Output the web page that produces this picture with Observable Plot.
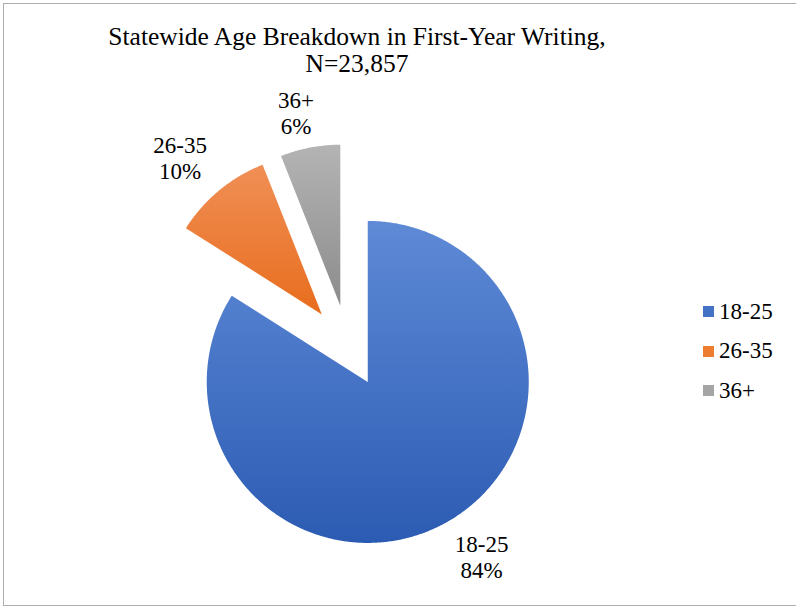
<!DOCTYPE html>
<html>
<head>
<meta charset="utf-8">
<script src="https://cdn.jsdelivr.net/npm/d3@7"></script>
<script src="https://cdn.jsdelivr.net/npm/@observablehq/plot@0.6"></script>
<style>
  html, body { margin: 0; padding: 0; background: #fff; }
  body { width: 796px; height: 609px; position: relative; overflow: hidden; font-family: "Liberation Serif", "Times New Roman", serif; }
  #frame { position: absolute; left: 3px; top: 3px; width: 820px; height: 603px; border: 1.5px solid #adadad; box-sizing: border-box; }
  #title { position: absolute; left: 357px; top: 23px; transform: translateX(-50%); white-space: nowrap; text-align: center; font-size: 25.5px; line-height: 27px; color: #000; }
  #chart { position: absolute; left: 0; top: 82px; }
  #legend { position: absolute; left: 703px; top: 292px; font-size: 23px; color: #000; }
  .item { display: flex; align-items: center; height: 39.5px; }
  .sw { width: 11px; height: 11px; margin-right: 5px; }
</style>
</head>
<body>
<div id="frame"></div>
<div id="title">Statewide Age Breakdown in First-Year Writing,<br>N=23,857</div>
<div id="chart"></div>
<div id="legend"></div>
<script>
// ---- data ----
const categories = ["18-25", "26-35", "36+"];
const shares = [84, 10, 6];            // percent
const shareLabels = ["84%", "10%", "6%"];
const legendColors = ["#4472c4", "#ed7d31", "#a5a5a5"];
const gradTop = ["#5e8ad6", "#f08f56", "#b4b4b4"];
const gradBottom = ["#2c5bb3", "#e86d1d", "#8c8c8c"];

// ---- layout ----
const W = 796, H = 527;
const cx = 347.5, cy = 263.5;       // pie centre in svg px
const R = 161;                      // radius in px (data unit = 1px)
const explode = 41;                 // every slice pulled out by this distance
const total = d3.sum(shares);

const rad = a => a * Math.PI / 180;
const dir = a => [Math.sin(rad(a)), Math.cos(rad(a))]; // clockwise from 12 o'clock, y up

let cum = 0;
const slices = categories.map((cat, i) => {
  const a0 = cum / total * 360;
  cum += shares[i];
  const a1 = cum / total * 360;
  const mid = (a0 + a1) / 2;
  const [dx, dy] = dir(mid);
  return {cat, i, a0, a1, mid, ax: dx * explode, ay: dy * explode};
});

const points = [];
for (const s of slices) {
  points.push({cat: s.cat, x: s.ax, y: s.ay});
  const n = Math.max(2, Math.ceil((s.a1 - s.a0) / 0.5));
  for (let k = 0; k <= n; k++) {
    const a = s.a0 + (s.a1 - s.a0) * k / n;
    const [dx, dy] = dir(a);
    points.push({cat: s.cat, x: s.ax + R * dx, y: s.ay + R * dy});
  }
  points.push({cat: s.cat, x: s.ax, y: s.ay});
}

const clamp = v => Math.max(-1, Math.min(1, v));
const labels = slices.map(s => {
  const [dx, dy] = dir(s.mid);
  return {
    text: `${s.cat}\n${shareLabels[s.i]}`,
    x: s.ax + 1.07 * R * dx + clamp(2 * dx) * 32,
    y: s.ay + 1.07 * R * dy + clamp(2 * dy) * 24
  };
});

const chart = Plot.plot({
  width: W, height: H,
  margin: 0,
  x: {domain: [-cx, W - cx], axis: null},
  y: {domain: [cy - H, cy], axis: null},
  color: {domain: categories, range: categories.map((c, i) => `url(#grad${i})`)},
  style: {background: "transparent", overflow: "visible"},
  marks: [
    Plot.line(points, {x: "x", y: "y", z: "cat", fill: "cat", stroke: "none", curve: "linear"}),
    Plot.text(labels, {x: "x", y: "y", text: "text", fontSize: 23, lineHeight: 1.13,
      fontFamily: "Liberation Serif", fill: "#000", textAnchor: "middle", lineAnchor: "middle"})
  ]
});

const defs = d3.select(chart).insert("defs", ":first-child");
categories.forEach((c, i) => {
  const g = defs.append("linearGradient").attr("id", `grad${i}`)
    .attr("x1", 0).attr("y1", 0).attr("x2", 0).attr("y2", 1);
  g.append("stop").attr("offset", "0%").attr("stop-color", gradTop[i]);
  g.append("stop").attr("offset", "100%").attr("stop-color", gradBottom[i]);
});

document.getElementById("chart").appendChild(chart);

const legend = d3.select("#legend");
categories.forEach((c, i) => {
  const it = legend.append("div").attr("class", "item");
  it.append("div").attr("class", "sw").style("background", legendColors[i]);
  it.append("span").text(c);
});
</script>
</body>
</html>
